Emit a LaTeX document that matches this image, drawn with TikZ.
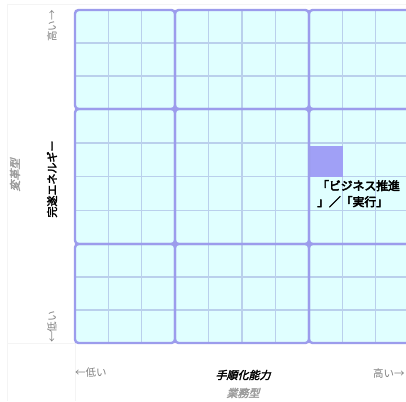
\documentclass[tikz,border=0pt]{standalone}
\usepackage{fontspec}
\newfontfamily\jp{Noto Sans CJK JP}
\newfontfamily\jpb[FakeBold=2.5]{Noto Sans CJK JP}
\newfontfamily\jpbb[FakeBold=4]{Noto Sans CJK JP}
\newfontfamily\jpbi[FakeBold=2.5,FakeSlant=0.25]{Noto Sans CJK JP}
\definecolor{cellfill}{HTML}{E0FFFF}
\definecolor{major}{HTML}{9C9CEC}
\definecolor{minor}{HTML}{BAD0EC}
\definecolor{mark}{HTML}{A0A0F6}
\definecolor{lab}{HTML}{808080}
\definecolor{typ}{HTML}{9A9A9A}
\definecolor{faint}{HTML}{F4F4F4}
\begin{document}
\begin{tikzpicture}[x=1pt,y=-1pt,
  cellbox/.style={draw=major,line width=2.4pt,rounded corners=3.5pt},
  minorline/.style={draw=minor,line width=1.4pt},
  marker/.style={fill=mark,draw=none},
  axislab/.style={font=\jp\fontsize{10.5}{12}\selectfont,text=lab,inner sep=0pt},
  axisname/.style={font=\jpb\fontsize{11}{13}\selectfont,text=black,inner sep=0pt},
  axisnamei/.style={font=\jpbi\fontsize{11}{13}\selectfont,text=black,inner sep=0pt},
  typelab/.style={font=\jpbi\fontsize{11}{13}\selectfont,text=typ,inner sep=0pt},
  celltext/.style={font=\jpbb\fontsize{11.8}{16}\selectfont,text=black,inner sep=0pt,align=left}]
\useasboundingbox (0,0) rectangle (406,401);
\clip (0,0) rectangle (406,401);
\fill[white] (0,0) rectangle (406,401);
% faint frame lines
\draw[faint,line width=0.6pt] (7,4) -- (406,4);
\draw[faint,line width=0.6pt] (7,4) -- (7,401);
\draw[faint,line width=0.6pt] (7,343) -- (75,343);
\draw[faint,line width=0.6pt] (75,343) -- (75,401);
% cell fills
\foreach \xa/\xb in {75/175,175/309,309/409}
  \foreach \ya/\yb in {10/109,109/244,244/343}
    \fill[cellfill] (\xa,\ya) rectangle (\xb,\yb);
% minor lines
\foreach \x in {108.3,141.7,208.5,242,275.5,342.3,375.7}
  \draw[minorline] (\x,10) -- (\x,343);
\foreach \y in {43,76,142.8,176.5,210.3,277,310}
  \draw[minorline] (75,\y) -- (409,\y);
% marked sub cell
\fill[marker] (310,146) rectangle (342.5,177);
% major cells
\foreach \xa/\xb in {75/175,175/309,309/412}
  \foreach \ya/\yb in {10/109,109/244,244/343}
    \draw[cellbox] (\xa,\ya) rectangle (\xb,\yb);
% text in cell
\node[celltext,anchor=north west] (t1) at (317,180) {「ビジネス推進\\」／「実行」};
% vertical axis
\node[axislab,rotate=90,anchor=east] (yhigh) at (52,10) {高い→};
\node[axislab,rotate=90,anchor=west] (ylow) at (52,343) {←低い};
\node[axisname,rotate=90] (yname) at (52,179) {完遂エネルギー};
\node[typelab,rotate=90] (ytype) at (15,175) {変革型};
% horizontal axis
\node[axislab,anchor=west] (xlow) at (75,373) {←低い};
\node[axislab,anchor=west] (xhigh) at (373,373) {高い→};
\node[axisnamei] (xname) at (243,375) {手順化能力};
\node[typelab] (xtype) at (243,393) {業務型};
\end{tikzpicture}
\end{document}
